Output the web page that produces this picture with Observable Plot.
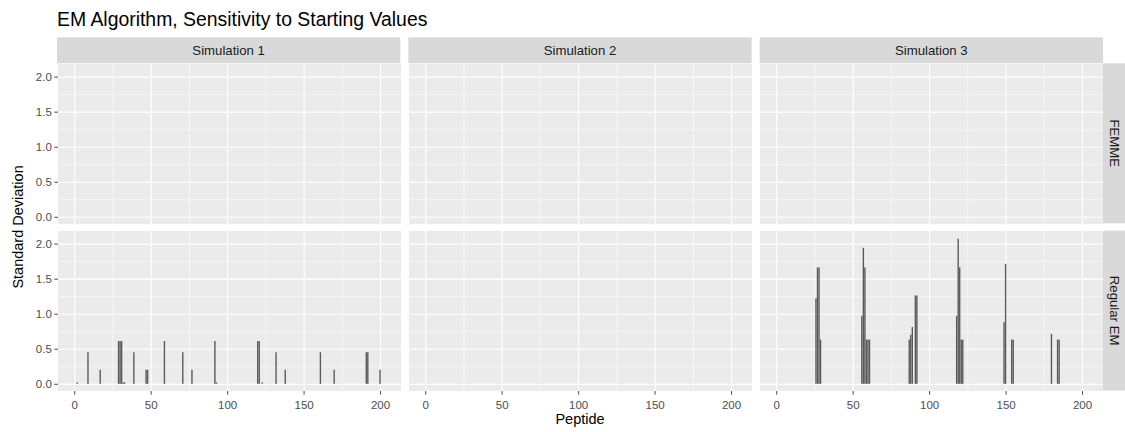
<!DOCTYPE html>
<html><head><meta charset="utf-8">
<script src="https://cdn.jsdelivr.net/npm/d3@7"></script>
<script src="https://cdn.jsdelivr.net/npm/@observablehq/plot@0.6"></script>
<style>
body{margin:0;background:#fff;}
#wrap{position:relative;width:1125px;height:432px;overflow:hidden;background:#fff}
#wrap svg{position:absolute;left:0;top:0}
</style></head><body><div id="wrap"></div>
<script>
// ---- data ----
const simulations = ["Simulation 1", "Simulation 2", "Simulation 3"];
const methods = ["FEMME", "Regular EM"];

// Regular EM, Simulation 1
const sim1EmPeptide = [2, 9, 17, 29, 30, 31, 32, 33, 39, 47, 48, 59, 71, 77, 92, 93, 120, 121, 123, 132, 138, 161, 170, 191, 192, 200];
const sim1EmSd      = [0.02, 0.45, 0.2, 0.61, 0.61, 0.61, 0.02, 0.02, 0.45, 0.2, 0.2, 0.61, 0.45, 0.2, 0.61, 0.02, 0.61, 0.61, 0.02, 0.45, 0.2, 0.45, 0.2, 0.45, 0.45, 0.2];
// Regular EM, Simulation 2 (no visible bars)
const sim2EmPeptide = [];
const sim2EmSd      = [];
// Regular EM, Simulation 3
const sim3EmPeptide = [26, 27, 28, 29, 56, 57, 58, 59, 60, 61, 87, 88, 89, 91, 92, 118, 119, 120, 121, 122, 149, 150, 154, 155, 180, 184, 185];
const sim3EmSd      = [1.22, 1.66, 1.66, 0.63, 0.97, 1.94, 1.66, 0.63, 0.63, 0.63, 0.63, 0.70, 0.81, 1.26, 1.26, 0.97, 2.07, 1.66, 0.63, 0.63, 0.88, 1.71, 0.63, 0.63, 0.71, 0.63, 0.63];
// FEMME (no visible bars in any simulation)
const femmePeptide = [];
const femmeSd      = [];

const xTicks = [0, 50, 100, 150, 200];
const xMinor = [25, 75, 125, 175];
const yTicks = [0, 0.5, 1, 1.5, 2];
const yMinor = [0.25, 0.75, 1.25, 1.75];

// ---- build tables ----
const series = [
  {sim: "Simulation 1", method: "Regular EM", p: sim1EmPeptide, v: sim1EmSd},
  {sim: "Simulation 2", method: "Regular EM", p: sim2EmPeptide, v: sim2EmSd},
  {sim: "Simulation 3", method: "Regular EM", p: sim3EmPeptide, v: sim3EmSd},
  {sim: "Simulation 1", method: "FEMME", p: femmePeptide, v: femmeSd},
  {sim: "Simulation 2", method: "FEMME", p: femmePeptide, v: femmeSd},
  {sim: "Simulation 3", method: "FEMME", p: femmePeptide, v: femmeSd}
];
const bars = series.flatMap(s => s.p.map((p, i) => ({sim: s.sim, method: s.method, peptide: p, sd: s.v[i]})));
const cells = simulations.flatMap(sim => methods.map(method => ({sim, method})));

// ---- layout ----
const W = 1125, H = 432, mL = 57, mR = 22, mT = 63.3, mB = 41.4;
const padX = 0.0228, padY = 0.0436;
const font = '"Liberation Sans", Arial, sans-serif';

const chart = Plot.plot({
  width: W, height: H,
  marginLeft: mL, marginRight: mR, marginTop: mT, marginBottom: mB,
  style: {background: "transparent", fontFamily: font, fontSize: "11.5px", color: "#4D4D4D", overflow: "visible"},
  fx: {domain: simulations, paddingInner: padX, paddingOuter: 0, axis: null, label: null},
  fy: {domain: methods, paddingInner: padY, paddingOuter: 0, axis: null, label: null},
  x: {domain: [-10.6, 213.7], ticks: xTicks, tickSize: 3.7, tickPadding: 6, label: null},
  y: {domain: [-0.103, 2.18], ticks: yTicks, tickFormat: d3.format(".1f"), tickSize: 3.7, tickPadding: 3, label: null},
  marks: [
    Plot.rect(cells, {fx: "sim", fy: "method", fill: "#EBEBEB"}),
    Plot.ruleX(xMinor, {stroke: "white", strokeWidth: 0.55}),
    Plot.ruleY(yMinor, {stroke: "white", strokeWidth: 0.55}),
    Plot.ruleX(xTicks, {stroke: "white", strokeWidth: 1.1}),
    Plot.ruleY(yTicks, {stroke: "white", strokeWidth: 1.1}),
    Plot.rect(bars, {fx: "sim", fy: "method", x1: d => d.peptide - 0.45, x2: d => d.peptide + 0.45, y1: 0, y2: "sd", fill: "#595959"})
  ]
});

const wrap = document.getElementById("wrap");

// decoration layer (strips, titles) behind the plot
const fxBand = d3.scaleBand().domain(simulations).range([mL, W - mR]).paddingInner(padX).paddingOuter(0);
const fyBand = d3.scaleBand().domain(methods).range([mT, H - mB]).paddingInner(padY).paddingOuter(0);

const deco = d3.create("svg").attr("width", W).attr("height", H)
  .style("font-family", font);

deco.append("text").attr("x", 57).attr("y", 26).attr("font-size", 19.4).attr("fill", "#000")
  .text("EM Algorithm, Sensitivity to Starting Values");

const stripTop = 37.3, stripH = mT - stripTop;
for (const s of simulations) {
  deco.append("rect").attr("x", fxBand(s)).attr("y", stripTop).attr("width", fxBand.bandwidth()).attr("height", stripH).attr("fill", "#D9D9D9");
  deco.append("text").attr("x", fxBand(s) + fxBand.bandwidth() / 2).attr("y", 55.3)
    .attr("text-anchor", "middle").attr("font-size", 13.2).attr("fill", "#1A1A1A").text(s);
}
for (const m of methods) {
  deco.append("rect").attr("x", W - mR).attr("y", fyBand(m)).attr("width", mR).attr("height", fyBand.bandwidth()).attr("fill", "#D9D9D9");
  const cy = fyBand(m) + fyBand.bandwidth() / 2;
  deco.append("text").attr("transform", `translate(${W - mR + 6.5},${cy}) rotate(90)`)
    .attr("text-anchor", "middle").attr("font-size", 13.2).attr("fill", "#1A1A1A").text(m);
}
deco.append("text").attr("x", (mL + W - mR) / 2).attr("y", 424).attr("text-anchor", "middle")
  .attr("font-size", 14.5).attr("fill", "#000").text("Peptide");
deco.append("text").attr("transform", `translate(23,${(mT + H - mB) / 2}) rotate(-90)`).attr("text-anchor", "middle")
  .attr("font-size", 14.5).attr("fill", "#000").text("Standard Deviation");

wrap.appendChild(deco.node());
wrap.appendChild(chart);
</script></body></html>
